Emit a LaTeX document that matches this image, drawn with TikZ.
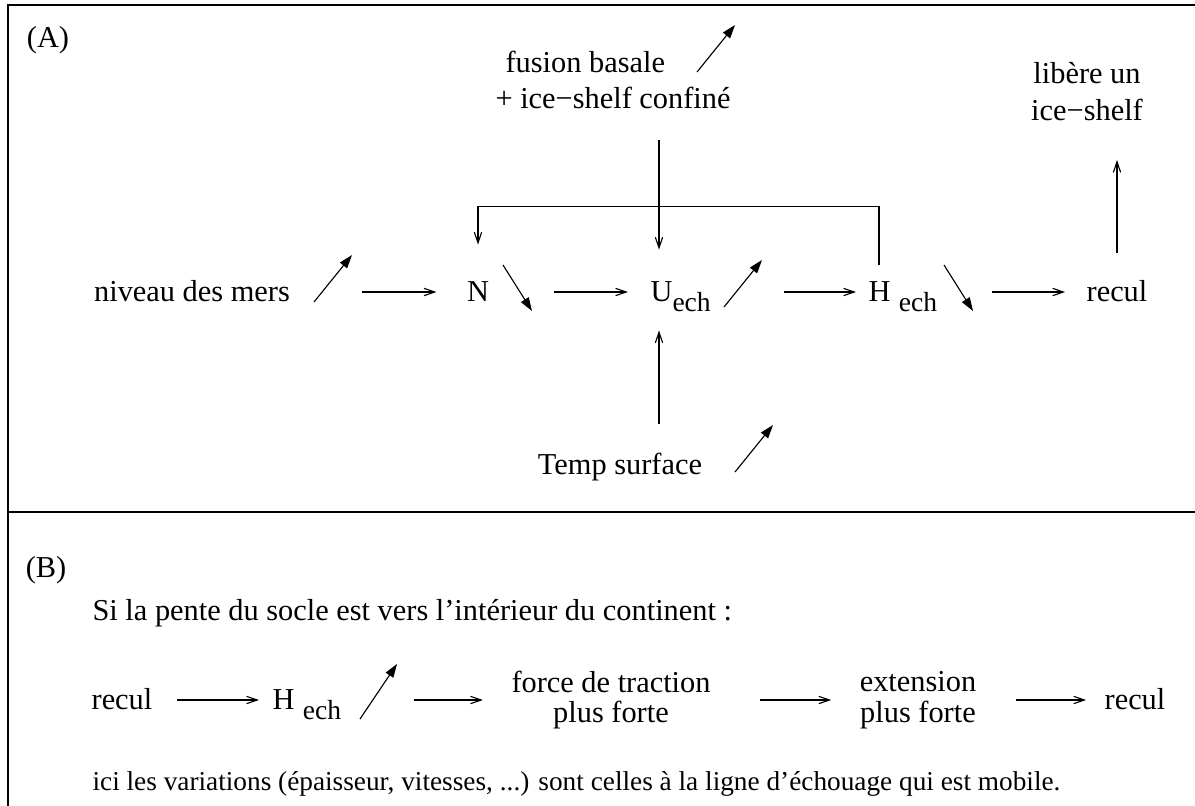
\documentclass[tikz,border=0pt]{standalone}
\usepackage{fontspec}
\setmainfont{Liberation Serif}
\usetikzlibrary{arrows.meta, calc, positioning}

\tikzset{
	txt/.style={inner sep=0pt, font=\fontsize{10.8}{13.2}\selectfont},
	item/.style={txt, text height=7pt, text depth=0pt},
	flow/.style={line width=0.4pt, -{Straight Barb[length=3.8pt,width=2.6pt]}},
	trend/.style={line width=0.4pt, -{Triangle[length=4.8pt,width=3.2pt]}},
	frame/.style={line width=0.7pt},
}
\newcommand{\ech}{\raisebox{-3.4pt}{\fontsize{9.8}{11}\selectfont ech}}
\newcommand{\monte}[1]{\draw[trend] (#1) -- ++(38,-47);}
\newcommand{\baisse}[1]{\draw[trend] (#1) -- ++(29,46);}

\begin{document}
\begin{tikzpicture}[x=0.0125cm, y=-0.0125cm]
		\clip (0,0) rectangle (1195,805);
		\useasboundingbox (0,0) rectangle (1195,805);
		% cadre
		\draw[frame] (8,830) -- (8,5) -- (1220,5);
		\draw[frame] (8,512) -- (1220,512);
		% (A)
		\node[txt, anchor=base] (lblA) at (48,47) {(A)};
		\node[item] (niveau) at (192,292) {niveau des mers};
		\node[item] (N) at (478,292) {N};
		\node[item, anchor=west] (Uech) at (650,292) {U\ech};
		\node[item, anchor=west] (Hech) at (868,292) {H\hspace{3pt}\ech};
		\node[item] (reculA) at (1117,292) {recul};
		\node[txt, anchor=base west] (fusion) at (505,72) {fusion basale};
		\node[txt, anchor=base west] (confine) at (495,108) {+ ice−shelf confiné};
		\node[txt, align=center, anchor=south] (libere) at (1087,121) {libère un\\ice−shelf};
		\node[item] (temp) at (620,465) {Temp surface};
		\coordinate (Ucol) at ($(Uech.west)+(9,0)$);
		\draw[flow] ($(niveau.east)+(72,0)$) -- ($(N.west)+(-30,0)$);
		\draw[flow] ($(N.east)+(64,0)$) -- ($(Uech.west)+(-22,0)$);
		\draw[flow] ($(Uech.east)+(73,0)$) -- ($(Hech.west)+(-12,0)$);
		\draw[flow] ($(Hech.east)+(54,0)$) -- ($(reculA.west)+(-21,0)$);
		\draw[flow] ($(confine.south -| Ucol)+(0,31)$) -- ($(Uech.north -| Ucol)+(0,-32)$);
		\draw[flow] ($(temp.north -| Ucol)+(0,-31)$) -- ($(Uech.south -| Ucol)+(0,28)$);
		\draw[flow] ($(reculA.north)+(0,-29)$) -- ($(libere.south -| reculA)+(0,39)$);
		\draw[flow] ($(Hech.north west)+(11,-17)$) -- ++(0,-58) -| ($(N.north)+(0,-37)$);
		\monte{314,302}
		\baisse{503,265}
		\monte{724,307}
		\baisse{944,265}
		\monte{697,72}
		\monte{735,472}
		% (B)
		\node[txt, anchor=base] (lblB) at (46,577) {(B)};
		\node[txt, anchor=base west] (pente) at (92,620) {Si la pente du socle est vers l’intérieur du continent :};
		\node[item] (reculB) at (122,700) {recul};
		\node[item, anchor=west] (HechB) at (272,700) {H\hspace{3pt}\ech};
		\node[txt, align=center, font=\fontsize{10.8}{10.8}\selectfont] (traction) at (611,700) {force de traction\\plus forte};
		\node[txt, align=center, font=\fontsize{10.8}{10.8}\selectfont] (extension) at (918,700) {extension\\plus forte};
		\node[item] (reculC) at (1135,700) {recul};
		\node[txt, anchor=base west, font=\fontsize{9.7}{11}\selectfont] (note) at (92,790) {ici les variations (épaisseur, vitesses, ...) sont celles à la ligne d’échouage qui est mobile.};
		\draw[flow] ($(reculB.east)+(24,0)$) -- ($(HechB.west)+(-13,0)$);
		\draw[flow] ($(HechB.east)+(72,0)$) -- ($(traction.west)+(-28,0)$);
		\draw[flow] ($(traction.east)+(49,0)$) -- ($(extension.west)+(-28,0)$);
		\draw[flow] ($(extension.east)+(39,0)$) -- ($(reculC.west)+(-18,0)$);
		\draw[trend] (360,719) -- ++(37,-55);
	\end{tikzpicture}
\end{document}
